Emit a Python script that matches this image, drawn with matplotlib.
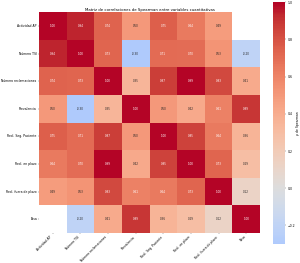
import numpy as np
import pandas as pd
import matplotlib
matplotlib.use("Agg")
import matplotlib.pyplot as plt
from matplotlib.colors import ListedColormap
import seaborn as sns

variables = ["Actividad AP", "Número TSI", "Número reclamaciones", "Prevalencia",
             "Recl. Seg. Paciente", "Recl. en plazo", "Recl. fuera de plazo", "Tasa"]

# Spearman matrix, row by row (NaN = no pair)
row_ap = [1.00, 0.94, 0.74, 0.50, 0.75, 0.64, 0.49, np.nan]
row_tsi = [0.94, 1.00, 0.73, -0.30, 0.71, 0.70, 0.53, -0.20]
row_recl = [0.74, 0.73, 1.00, 0.35, 0.87, 0.99, 0.83, 0.41]
row_prev = [0.50, -0.30, 0.35, 1.00, 0.50, 0.42, 0.61, 0.89]
row_seg = [0.75, 0.71, 0.87, 0.50, 1.00, 0.85, 0.64, 0.36]
row_plazo = [0.64, 0.70, 0.99, 0.42, 0.85, 1.00, 0.73, 0.29]
row_fuera = [0.49, 0.53, 0.83, 0.61, 0.64, 0.73, 1.00, 0.12]
row_tasa = [np.nan, -0.20, 0.41, 0.89, 0.36, 0.29, 0.12, 1.00]

corr = pd.DataFrame([row_ap, row_tsi, row_recl, row_prev, row_seg,
                     row_plazo, row_fuera, row_tasa],
                    index=variables, columns=variables)

# coolwarm centred on 0, cut to the data range
vmin = np.nanmin(corr.values)
vmax = np.nanmax(corr.values)
vr = max(abs(vmin), abs(vmax))
base = plt.get_cmap("coolwarm")
cmap = ListedColormap(base(np.linspace((vmin + vr) / (2 * vr), (vmax + vr) / (2 * vr), 256)))

fig = plt.figure(figsize=(12, 10.52), dpi=25)
ax = fig.add_axes([0.13, 0.114, 0.737, 0.84])
cax = fig.add_axes([0.91, 0.072, 0.04, 0.92])

sns.heatmap(corr, ax=ax, cbar_ax=cax, annot=True, fmt=".2f", cmap=cmap,
            vmin=vmin, vmax=vmax, annot_kws={"size": 8},
            cbar_kws={"label": "ρ de Spearman"})

ax.set_title("Matriz de correlaciones de Spearman entre variables cuantitativas",
             fontsize=11, pad=4)
ax.set_xticklabels(ax.get_xticklabels(), rotation=45, ha="right", fontsize=9)
ax.set_yticklabels(ax.get_yticklabels(), rotation=0, fontsize=9)
cax.tick_params(labelsize=9)
cax.yaxis.label.set_size(9)

plt.savefig("out.png", dpi=25)
